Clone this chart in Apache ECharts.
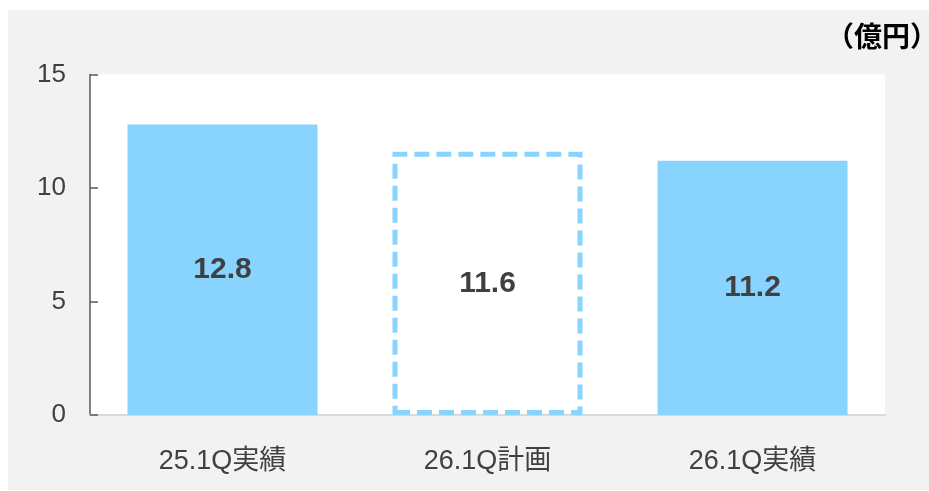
<!DOCTYPE html>
<html>
<head>
<meta charset="utf-8">
<script src="https://cdn.jsdelivr.net/npm/echarts@6/dist/echarts.min.js"></script>
<style>
html,body{margin:0;padding:0;background:#ffffff;}
#chart{width:929px;height:491px;}
</style>
</head>
<body>
<div id="chart"></div>
<script>
const categories = ['25.1Q実績', '26.1Q計画', '26.1Q実績'];
const values = [12.8, 11.6, 11.2];
const isPlan = [false, true, false];
const yTicks = [0, 5, 10, 15];
const unitLabel = '（億円）';

const FONT = "'Liberation Sans', Arial, 'Noto Sans CJK JP', sans-serif";
const BLUE = '#88d4ff';
const TEXT = '#404040';

const chart = echarts.init(document.getElementById('chart'), null, {renderer: 'canvas'});

const seriesData = values.map((v, i) => ({
  value: v,
  itemStyle: isPlan[i]
    ? {color: '#ffffff', borderColor: BLUE, borderWidth: 5, borderType: [15, 7]}
    : {color: BLUE}
}));

chart.setOption({
  animation: false,
  backgroundColor: '#ffffff',
  graphic: [
    {type: 'rect', z: -10, silent: true, shape: {x: 8, y: 10, width: 921, height: 480}, style: {fill: '#f2f2f2'}},
    {type: 'text', x: 938, y: 22, z: 10, style: {text: unitLabel, align: 'right', font: "bold 28px 'Noto Sans CJK JP', sans-serif", fill: '#000000'}}
  ],
  grid: {
    left: 90, right: 44, top: 74.5, bottom: 76,
    show: true, backgroundColor: '#ffffff', borderWidth: 0, containLabel: false
  },
  xAxis: {
    type: 'category',
    data: categories,
    axisLine: {lineStyle: {color: '#d9d9d9', width: 2}},
    axisTick: {show: false},
    axisLabel: {color: TEXT, fontSize: 27, fontFamily: FONT, margin: 33}
  },
  yAxis: {
    type: 'value',
    min: yTicks[0], max: yTicks[yTicks.length - 1], interval: 5,
    axisLine: {show: true, lineStyle: {color: '#595959', width: 1.5}},
    axisTick: {show: true, inside: true, length: 8, lineStyle: {color: '#595959', width: 1.5}},
    splitLine: {show: false},
    axisLabel: {color: TEXT, fontSize: 26, fontFamily: FONT, margin: 24}
  },
  series: [{
    type: 'bar',
    data: seriesData,
    barWidth: 190,
    label: {
      show: true, position: 'inside',
      color: TEXT, fontSize: 30, fontWeight: 'bold', fontFamily: FONT,
      formatter: p => p.value.toFixed(1)
    }
  }]
});
</script>
</body>
</html>
